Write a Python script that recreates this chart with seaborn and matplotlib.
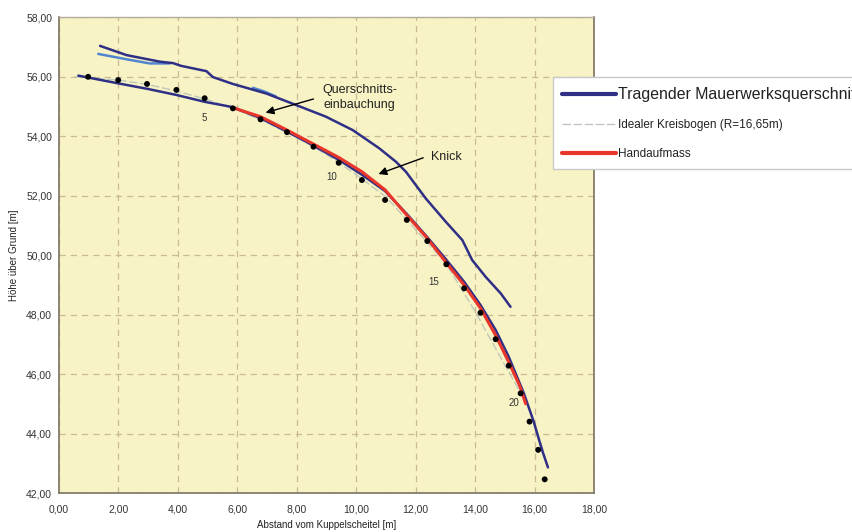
import matplotlib
matplotlib.use("Agg")
import matplotlib.pyplot as plt
import seaborn as sns
from matplotlib.ticker import MultipleLocator, FuncFormatter

# Handaufmass - nummerierte Messpunkte
punkt_x = [0.98, 1.99, 2.96, 3.95, 4.90, 5.85, 6.78, 7.67, 8.56, 9.41, 10.19, 10.97,
           11.70, 12.39, 13.03, 13.63, 14.18, 14.69, 15.13, 15.53, 15.83, 16.12, 16.34]
punkt_y = [55.99, 55.88, 55.75, 55.55, 55.27, 54.93, 54.56, 54.13, 53.64, 53.10, 52.52, 51.85,
           51.18, 50.47, 49.69, 48.88, 48.06, 47.17, 46.28, 45.35, 44.40, 43.45, 42.46]
punkt_nr = [5, 10, 15, 20]

# Tragender Mauerwerksquerschnitt - innere Linie
innen_x = [0.65, 1.99, 3.00, 3.95, 4.90, 5.85, 6.78, 7.67, 8.56, 9.41, 10.19, 10.97,
           11.70, 12.39, 13.03, 13.63, 14.18, 14.69, 15.13, 15.64, 15.97, 16.25, 16.45]
innen_y = [56.03, 55.77, 55.58, 55.38, 55.15, 54.97, 54.60, 54.15, 53.68, 53.20, 52.70, 52.15,
           51.38, 50.60, 49.84, 49.10, 48.32, 47.48, 46.58, 45.35, 44.40, 43.45, 42.86]

# Tragender Mauerwerksquerschnitt - aeussere Linie
aussen_x = [1.38, 2.27, 3.39, 3.84, 4.10, 4.96, 5.18, 5.85, 6.97, 7.98, 8.98, 9.88,
            10.77, 11.33, 11.67, 12.34, 13.01, 13.57, 13.90, 14.35, 14.86, 15.19]
aussen_y = [57.03, 56.72, 56.50, 56.45, 56.36, 56.18, 55.98, 55.75, 55.43, 55.04, 54.65, 54.20,
            53.59, 53.14, 52.80, 51.90, 51.12, 50.50, 49.83, 49.27, 48.71, 48.26]

# hellblaue Teilstuecke
hell1_x = [1.32, 2.27, 3.05, 3.72]
hell1_y = [56.76, 56.58, 56.44, 56.44]
hell2_x = [6.52, 6.90, 7.30]
hell2_y = [55.62, 55.50, 55.33]

# Idealer Kreisbogen (R=16,65m)
bogen_x = [0.50, 2.00, 3.00, 4.00, 5.00, 6.00, 7.00, 8.00, 9.00, 10.00, 11.00,
           12.00, 13.00, 14.00, 15.00, 15.80, 16.30]
bogen_y = [55.99, 55.88, 55.73, 55.50, 55.22, 54.87, 54.45, 53.95, 53.38, 52.70, 51.95,
           50.85, 49.75, 48.10, 46.30, 44.90, 43.40]

# Handaufmass (rote Linie)
hand_x = [5.85, 6.78, 7.67, 8.56, 9.41, 10.19, 10.97, 11.70, 12.39, 13.03, 13.63,
          14.18, 14.69, 15.13, 15.50, 15.70]
hand_y = [54.95, 54.65, 54.20, 53.73, 53.28, 52.80, 52.19, 51.34, 50.56, 49.74, 48.99,
          48.21, 47.30, 46.40, 45.60, 45.00]

sns.set_style("white")
plt.rcParams['font.family'] = ['Liberation Sans', 'DejaVu Sans']

navy = '#2f2f86'
fig = plt.figure(figsize=(8.53, 5.32), dpi=100)
ax = fig.add_axes([0.0692, 0.0733, 0.6272, 0.8947])
ax.set_facecolor('#f7f3c5')

sns.lineplot(x=bogen_x, y=bogen_y, ax=ax, sort=False, estimator=None, color='#bfc8bc',
             lw=1.0, label='Idealer Kreisbogen (R=16,65m)', zorder=2)
ax.lines[-1].set_linestyle((0, (6, 2)))
sns.lineplot(x=hell1_x, y=hell1_y, ax=ax, sort=False, estimator=None, color='#4f86cf',
             lw=1.8, label='_nolegend_', zorder=3)
sns.lineplot(x=hell2_x, y=hell2_y, ax=ax, sort=False, estimator=None, color='#4f86cf',
             lw=1.8, label='_nolegend_', zorder=3)
sns.lineplot(x=aussen_x, y=aussen_y, ax=ax, sort=False, estimator=None, color=navy,
             lw=1.8, label='_nolegend_', zorder=4)
sns.lineplot(x=innen_x, y=innen_y, ax=ax, sort=False, estimator=None, color=navy,
             lw=1.8, label='Tragender Mauerwerksquerschnitt', zorder=4)
sns.lineplot(x=hand_x, y=hand_y, ax=ax, sort=False, estimator=None, color='#e8362b',
             lw=2.2, label='Handaufmass', zorder=5)
sns.scatterplot(x=punkt_x, y=punkt_y, ax=ax, color='black', s=18, edgecolor='none',
                zorder=6, legend=False)

# Punktnummern
offsets = [(0, -14), (-5, -10), (-9, -13), (-5, -7)]
for nr, off in zip(punkt_nr, offsets):
    ax.annotate(str(nr), (punkt_x[nr - 1], punkt_y[nr - 1]), xytext=off,
                textcoords='offset points', ha='center', va='center',
                fontsize=7, color='#333333', zorder=7)

# Beschriftungen mit Pfeilen
ax.annotate('', xy=(6.86, 54.76), xytext=(8.65, 55.27),
            arrowprops=dict(arrowstyle='-|>', color='black', lw=1.0, mutation_scale=12),
            zorder=7)
ax.text(10.12, 55.30, 'Querschnitts-\neinbauchung', ha='center', va='center',
        fontsize=9, color='#222222', linespacing=1.4)
ax.annotate('', xy=(10.66, 52.69), xytext=(12.34, 53.30),
            arrowprops=dict(arrowstyle='-|>', color='black', lw=1.0, mutation_scale=12),
            zorder=7)
ax.text(13.02, 53.29, 'Knick', ha='center', va='center', fontsize=9, color='#222222')

ax.set_xlim(0, 18)
ax.set_ylim(42, 58)
ax.xaxis.set_major_locator(MultipleLocator(2))
ax.yaxis.set_major_locator(MultipleLocator(2))
fmt = FuncFormatter(lambda v, p: f'{v:.2f}'.replace('.', ','))
ax.xaxis.set_major_formatter(fmt)
ax.yaxis.set_major_formatter(fmt)
ax.tick_params(length=0, labelsize=7.5, labelcolor='#333333')
ax.tick_params(axis='x', pad=8)
ax.tick_params(axis='y', pad=5)
ax.grid(True, color='#c9b995', lw=0.9, linestyle=(0, (5, 4)), zorder=0)
ax.set_axisbelow(True)

for side in ['left', 'bottom', 'right']:
    ax.spines[side].set_color('#857d6c')
    ax.spines[side].set_linewidth(1.3)
ax.spines['top'].set_color('#b3ad9f')
ax.spines['top'].set_linewidth(1.0)

ax.set_xlabel('Abstand vom Kuppelscheitel [m]', fontsize=7, color='#222222', labelpad=4)
ax.set_ylabel('Höhe über Grund [m]', fontsize=7, color='#222222', labelpad=5)

handles, labels = ax.get_legend_handles_labels()
order = [labels.index('Tragender Mauerwerksquerschnitt'),
         labels.index('Idealer Kreisbogen (R=16,65m)'),
         labels.index('Handaufmass')]
leg = ax.legend([handles[i] for i in order], [labels[i] for i in order],
                loc='upper left', bbox_to_anchor=(0.648, 0.855),
                bbox_transform=fig.transFigure, fontsize=8.5, frameon=True,
                fancybox=False, framealpha=1, edgecolor='#c8c8c8',
                handlelength=4.6, handletextpad=0.1, labelspacing=1.45,
                borderpad=0.8, borderaxespad=0)
for t in leg.get_texts():
    t.set_color('#222222')
leg.get_texts()[0].set_fontsize(11.4)
leg.legend_handles[0].set_linewidth(3)
leg.legend_handles[2].set_linewidth(3)
leg.set_zorder(10)

fig.savefig('out.png', dpi=100)
